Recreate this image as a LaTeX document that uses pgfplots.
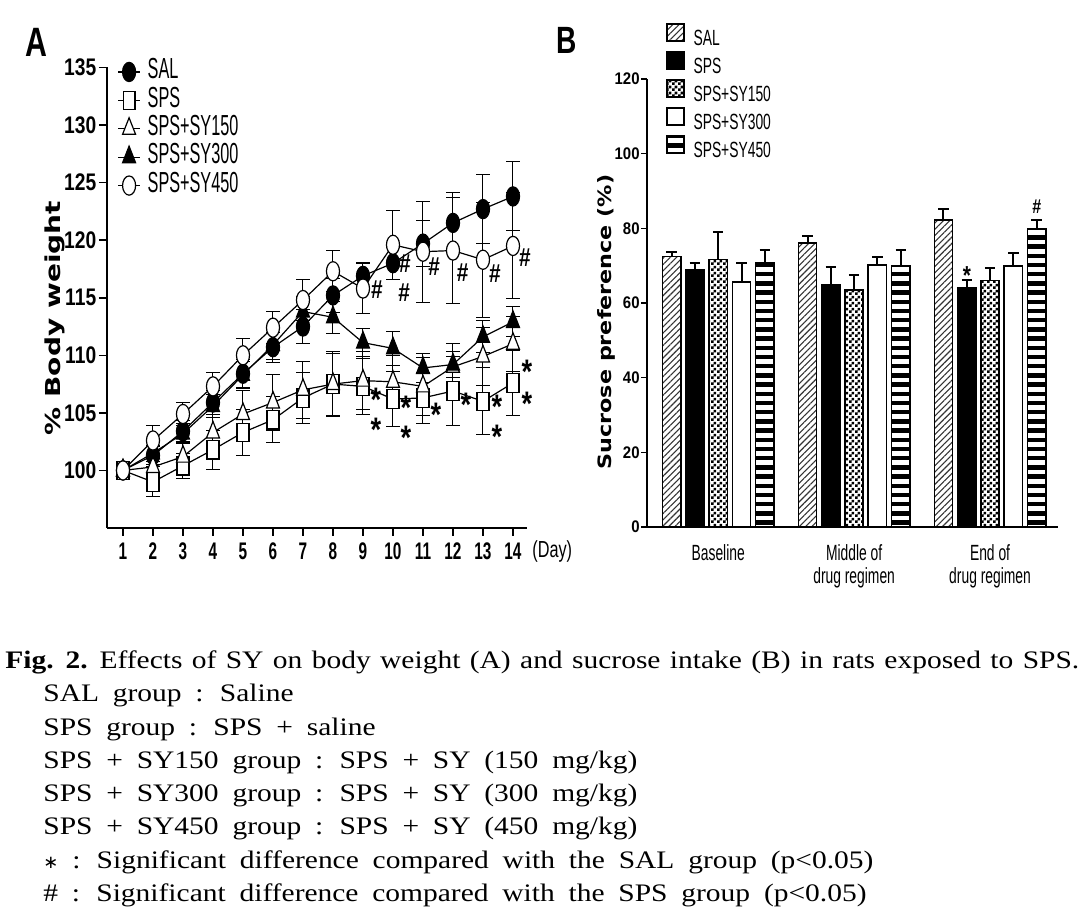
\documentclass[border=0pt]{standalone}
\usepackage{fontspec}
\setmainfont{Liberation Sans}
\newfontfamily\fA[FakeStretch=0.56]{Liberation Sans}
\newfontfamily\fB[FakeStretch=0.63]{Liberation Sans}
\newfontfamily\fYtickA[FakeStretch=0.8]{Liberation Sans Bold}
\newfontfamily\fXtickA[FakeStretch=0.64]{Liberation Sans Bold}
\newfontfamily\fTickB[FakeStretch=0.89]{Liberation Sans Bold}
\newfontfamily\fday[FakeStretch=0.7]{Liberation Sans}
\newfontfamily\fylabA[FakeStretch=1.36]{DejaVu Sans Bold}
\newfontfamily\fylabB[FakeStretch=1.21]{DejaVu Sans Bold}
\newfontfamily\fletter[FakeStretch=0.74]{Liberation Sans Bold}
\newfontfamily\fhash[FakeStretch=0.8]{Liberation Sans Bold}
\newfontfamily\fcap[FakeStretch=1.17]{Liberation Serif}
\newfontfamily\dejavu{DejaVu Sans}
\newcommand\bigast{\raisebox{-0.58em}[0.16em][0.16em]{*}}
\usepackage{pgfplots}
\pgfplotsset{compat=1.18}
\usetikzlibrary{patterns,patterns.meta}
\pgfdeclarepatternformonly{finechecker}{\pgfpointorigin}{\pgfqpoint{2.8pt}{2.8pt}}{\pgfqpoint{2.8pt}{2.8pt}}{%
  \pgfpathrectangle{\pgfpointorigin}{\pgfqpoint{1.4pt}{1.4pt}}%
  \pgfpathrectangle{\pgfqpoint{1.4pt}{1.4pt}}{\pgfqpoint{1.4pt}{1.4pt}}%
  \pgfusepath{fill}}
\pgfplotsset{
  lineA/.style={black, line width=0.6pt, mark size=4.8pt,
    error bars/y dir=both, error bars/y explicit,
    error bars/error bar style={line width=0.5pt, black, solid},
    error bars/error mark options={rotate=90, mark size=3.3pt, line width=0.5pt, black}},
  barB/.style={draw=black, line width=0.8pt,
    error bars/y dir=plus, error bars/y explicit,
    error bars/error bar style={line width=1pt, black, solid},
    error bars/error mark options={rotate=90, mark size=2.6pt, line width=1pt, black}},
}
\tikzset{
  ast/.style={font=\fhash\fontsize{17}{17}\selectfont, anchor=center, inner sep=0pt},
  hsh/.style={font=\fhash\fontsize{13}{13}\selectfont, anchor=center, inner sep=0pt},
}
\begin{document}
\begin{tikzpicture}
\useasboundingbox (0,0) rectangle (546pt,454.5pt);
% ---------------- Panel A ----------------
\begin{axis}[
  at={(53.5pt,190.5pt)}, anchor=south west, scale only axis,
  width=210pt, height=230.25pt,
  xmin=0.467, xmax=14.467, ymin=95, ymax=135,
  axis lines=left, axis line style={-, line width=0.8pt},
  xtick={1,...,14}, ytick={100,105,...,135},
  tick align=outside, major tick length=4pt,
  tick style={line width=0.8pt, black},
  /pgf/number format/assume math mode=true,
  xticklabel style={font=\fXtickA\fontsize{12}{12}\selectfont},
  yticklabel style={font=\fYtickA\fontsize{12}{12}\selectfont, inner sep=1.2pt},
  clip=false,
  legend style={at={(rel axis cs:0.024,1.022)}, anchor=north west, draw=none, fill=none,
    font=\fA\fontsize{14.5}{14.5}\selectfont, inner sep=0pt, row sep=0pt, column sep=3pt,
    nodes={inner sep=0.5pt, text height=10pt, text depth=3.2pt}},
  legend cell align=left,
  legend image code/.code={\draw[mark repeat=2, mark phase=2, #1] plot coordinates {(0pt,0pt) (5.5pt,0pt) (11pt,0pt)};},
]
\addplot[lineA, mark=*, mark options={fill=black, solid, xscale=0.68}] coordinates {
 (1,100) +- (0,0) (2,101.3) +- (0,0.8) (3,103.4) +- (0,0.9) (4,105.9) +- (0,1.0)
 (5,108.4) +- (0,1.2) (6,110.7) +- (0,1.3) (7,112.5) +- (0,1.5) (8,115.2) +- (0,1.5)
 (9,116.9) +- (0,1.2) (10,118.0) +- (0,1.4) (11,119.7) +- (0,2.0) (12,121.5) +- (0,2.6)
 (13,122.7) +- (0,3.0) (14,123.8) +- (0,3.0)};
\addlegendentry{SAL}
\addplot[lineA, mark=square*, mark options={fill=white, solid, xscale=0.65, mark size=4.6pt}] coordinates {
 (1,100) +- (0,0) (2,99.0) +- (0,1.3) (3,100.4) +- (0,1.1) (4,101.8) +- (0,1.7)
 (5,103.3) +- (0,2.0) (6,104.4) +- (0,2.0) (7,106.3) +- (0,2.2) (8,107.5) +- (0,2.8)
 (9,107.3) +- (0,2.4) (10,106.2) +- (0,2.4) (11,106.3) +- (0,2.2) (12,106.9) +- (0,3.0)
 (13,106.0) +- (0,2.9) (14,107.6) +- (0,2.8)};
\addlegendentry{SPS}
\addplot[lineA, mark=triangle*, mark options={fill=white, solid, xscale=0.68, mark size=5.5pt}] coordinates {
 (1,100) +- (0,0) (2,100.3) +- (0,0.7) (3,101.2) +- (0,1.2) (4,103.3) +- (0,1.8)
 (5,104.9) +- (0,2.0) (6,105.9) +- (0,2.4) (7,107.0) +- (0,2.5) (8,107.5) +- (0,2.7)
 (9,107.8) +- (0,2.5) (10,107.7) +- (0,2.3) (11,107.3) +- (0,2.5) (12,109.0) +- (0,2.0)
 (13,109.9) +- (0,2.5) (14,111.0) +- (0,2.4)};
\addlegendentry{SPS+SY150}
\addplot[lineA, mark=triangle*, mark options={fill=black, solid, xscale=0.68, mark size=5.5pt}] coordinates {
 (1,100) +- (0,0) (2,101.5) +- (0,0.7) (3,103.2) +- (0,0.9) (4,105.6) +- (0,1.0)
 (5,108.3) +- (0,1.2) (6,110.9) +- (0,1.3) (7,113.8) +- (0,1.3) (8,113.3) +- (0,1.4)
 (9,111.1) +- (0,1.2) (10,110.6) +- (0,1.5) (11,108.9) +- (0,1.3) (12,109.2) +- (0,1.1)
 (13,111.6) +- (0,1.4) (14,112.9) +- (0,1.3)};
\addlegendentry{SPS+SY300}
\addplot[lineA, mark=*, mark options={fill=white, solid, xscale=0.68}] coordinates {
 (1,100) +- (0,0) (2,102.6) +- (0,1.3) (3,104.9) +- (0,1.0) (4,107.3) +- (0,1.2)
 (5,110.0) +- (0,1.5) (6,112.4) +- (0,1.4) (7,114.8) +- (0,1.8) (8,117.3) +- (0,1.8)
 (9,115.8) +- (0,2.2) (10,119.6) +- (0,3.0) (11,119.0) +- (0,4.4) (12,119.1) +- (0,4.6)
 (13,118.3) +- (0,5.0) (14,119.5) +- (0,4.6)};
\addlegendentry{SPS+SY450}
% significance marks
\node[ast] at (axis cs:9.43,106.8) {\bigast};
\node[ast] at (axis cs:9.43,104.2) {\bigast};
\node[ast] at (axis cs:10.43,106.1) {\bigast};
\node[ast] at (axis cs:10.43,103.5) {\bigast};
\node[ast] at (axis cs:11.43,105.5) {\bigast};
\node[ast] at (axis cs:12.43,106.4) {\bigast};
\node[ast] at (axis cs:13.46,106.2) {\bigast};
\node[ast] at (axis cs:13.46,103.6) {\bigast};
\node[ast] at (axis cs:14.46,109.3) {\bigast};
\node[ast] at (axis cs:14.46,106.5) {\bigast};
\node[hsh] at (axis cs:9.46,115.7) {\#};
\node[hsh] at (axis cs:10.4,118.0) {\#};
\node[hsh] at (axis cs:10.37,115.4) {\#};
\node[hsh] at (axis cs:11.37,117.7) {\#};
\node[hsh] at (axis cs:12.32,117.2) {\#};
\node[hsh] at (axis cs:13.4,117.1) {\#};
\node[hsh] at (axis cs:14.4,118.5) {\#};
\node[anchor=west, font=\fday\fontsize{11.6}{11.6}\selectfont, inner sep=0pt] at (rel axis cs:1.012,-0.052) {(Day)};
\end{axis}
\node[rotate=90, font=\fylabA\fontsize{10.3}{10.3}\selectfont] at (27.5pt,295.5pt) {\% Body weight};
\node[font=\fletter\fontsize{20.5}{20.5}\selectfont, inner sep=0pt] at (18pt,433.5pt) {A};
% ---------------- Panel B ----------------
\begin{axis}[
  at={(323.5pt,191pt)}, anchor=south west, scale only axis,
  width=205.5pt, height=224pt,
  xmin=-0.524, xmax=2.5, ymin=0, ymax=120,
  axis lines=left, axis line style={-, line width=0.8pt},
  ybar=2.5pt, bar width=9.15pt,
  xtick={0,1,2}, xticklabels={Baseline,{Middle of\\drug regimen},{End of\\drug regimen}},
  ytick={0,20,...,120},
  tick align=outside, major tick length=3pt, major x tick style={draw=none},
  tick style={line width=0.8pt, black},
  /pgf/number format/assume math mode=true,
  xticklabel style={font=\fB\fontsize{11}{11.5}\selectfont, align=center, yshift=-2pt},
  yticklabel style={font=\fTickB\fontsize{8.4}{8.4}\selectfont, inner sep=0.5pt},
  clip=false,
  legend style={at={(rel axis cs:0.046,1.125)}, anchor=north west, draw=none, fill=none,
    font=\fB\fontsize{11}{11}\selectfont, inner sep=0pt, row sep=0pt, column sep=4pt,
    nodes={inner sep=0.5pt, text height=8.3pt, text depth=2.5pt}},
  legend cell align=left,
  legend image code/.code={\draw[#1, line width=0.8pt] (0pt,-0.6pt) rectangle (8.3pt,7.7pt);},
]
\addplot[barB, pattern={Lines[angle=45,distance=2.2pt,line width=0.55pt]}, pattern color=black!80] coordinates {
 (0,72.4) +- (0,1.3) (1,76.1) +- (0,1.8) (2,82.2) +- (0,3.0)};
\addlegendentry{SAL}
\addplot[barB, fill=black] coordinates {
 (0,69.0) +- (0,1.8) (1,64.8) +- (0,4.9) (2,64.1) +- (0,2.0)};
\addlegendentry{SPS}
\addplot[barB, pattern=finechecker, pattern color=black] coordinates {
 (0,71.7) +- (0,7.4) (1,63.4) +- (0,4.1) (2,66.0) +- (0,3.5)};
\addlegendentry{SPS+SY150}
\addplot[barB, fill=white] coordinates {
 (0,65.6) +- (0,5.2) (1,70.2) +- (0,2.2) (2,69.9) +- (0,3.6)};
\addlegendentry{SPS+SY300}
\addplot[barB, pattern={Lines[angle=0,distance=4.6pt,line width=2.2pt]}, pattern color=black] coordinates {
 (0,70.8) +- (0,3.4) (1,69.9) +- (0,4.3) (2,80.0) +- (0,2.2)};
\addlegendentry{SPS+SY450}
\node[font=\fhash\fontsize{13}{13}\selectfont, anchor=center, inner sep=0pt] at (axis cs:1.829,68.9) {\bigast};
\node[font=\fhash\fontsize{10}{10}\selectfont, inner sep=0pt] at (axis cs:2.345,85.9) {\#};
\end{axis}
\node[rotate=90, font=\fylabB\fontsize{9.2}{9.2}\selectfont] at (303pt,293.5pt) {Sucrose preference (\%)};
\node[font=\fletter\fontsize{19}{19}\selectfont, inner sep=0pt] at (283.5pt,434.5pt) {B};
% ---------------- Caption ----------------
\begin{scope}[every node/.style={anchor=base west, inner sep=0pt, font=\fcap\fontsize{12.6}{12.6}\selectfont}]
\node at (2.5pt,120pt) {\spaceskip=4.7pt\relax\textbf{Fig. 2.} Effects of SY on body weight (A) and sucrose intake (B) in rats exposed to SPS.};
\node at (21.5pt,103.5pt) {\spaceskip=6.9pt\relax SAL group : Saline};
\node at (21.5pt,86.5pt) {\spaceskip=6.9pt\relax SPS group : SPS + saline};
\node at (21.5pt,70pt) {\spaceskip=6.9pt\relax SPS + SY150 group : SPS + SY (150 mg/kg)};
\node at (21.5pt,53.5pt) {\spaceskip=6.9pt\relax SPS + SY300 group : SPS + SY (300 mg/kg)};
\node at (21.5pt,37pt) {\spaceskip=6.9pt\relax SPS + SY450 group : SPS + SY (450 mg/kg)};
\node at (21.5pt,20pt) {\spaceskip=6.9pt\relax {\dejavu\fontsize{9}{9}\selectfont ∗} : Significant difference compared with the SAL group (p<0.05)};
\node at (21.5pt,3.5pt) {\spaceskip=6.9pt\relax \# : Significant difference compared with the SPS group (p<0.05)};
\end{scope}
\end{tikzpicture}
\end{document}
